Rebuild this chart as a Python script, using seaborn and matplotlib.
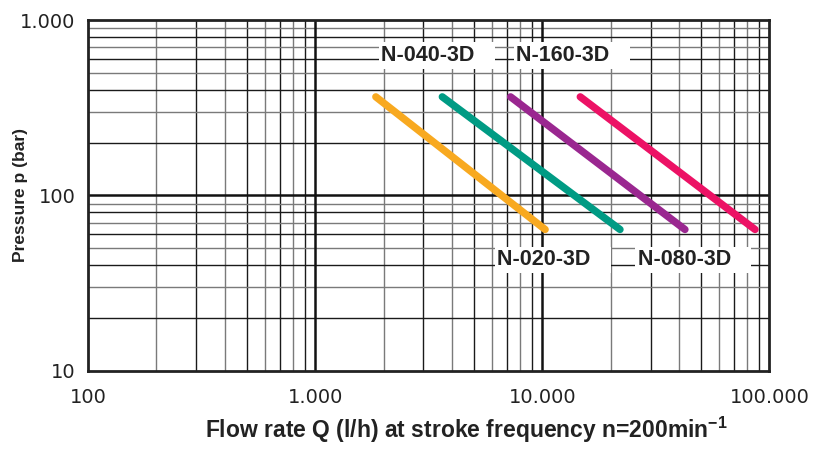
import seaborn as sns
import matplotlib.pyplot as plt
import matplotlib.ticker as mticker
import pandas as pd

# Dados
modelos = ['N-020-3D', 'N-040-3D', 'N-080-3D', 'N-160-3D']
vazao_inicio = [1850, 3630, 7250, 14700]
vazao_fim = [10300, 22000, 42500, 86500]
pressao_max = 365
pressao_min = 64
cores = ['#F8A920', '#009B84', '#9A2790', '#EC1265']

# posição dos rótulos (x, y em unidades dos dados)
rotulo_x = [6340, 1956, 26270, 7685]
rotulo_y = [43, 628, 43, 628]

x_ticks = [100, 1000, 10000, 100000]
x_labels = ['100', '1.000', '10.000', '100.000']
y_ticks = [10, 100, 1000]
y_labels = ['10', '100', '1.000']

linhas = []
for m, a, b in zip(modelos, vazao_inicio, vazao_fim):
    linhas.append({'Modelo': m, 'Q': a, 'p': pressao_max})
    linhas.append({'Modelo': m, 'Q': b, 'p': pressao_min})
df = pd.DataFrame(linhas)

sns.set_style('white')
plt.rcParams['font.family'] = ['Liberation Sans', 'DejaVu Sans']
plt.rcParams['mathtext.fontset'] = 'custom'
plt.rcParams['mathtext.bf'] = 'Liberation Sans:bold'
plt.rcParams['mathtext.rm'] = 'Liberation Sans:bold'

fig = plt.figure(figsize=(8.15, 4.66), dpi=100)
ax = fig.add_axes([0.108, 0.204, 0.836, 0.753])
ax.set_xscale('log')
ax.set_yscale('log')
ax.set_xlim(100, 100000)
ax.set_ylim(10, 1000)

# grade secundária (alternando preto/cinza)
for dec in [100, 1000, 10000]:
    for k in range(2, 10):
        c = '#7a7a7a' if k % 2 == 0 else '#1a1a1a'
        ax.axvline(k * dec, color=c, lw=1.0, zorder=1)
for dec in [10, 100]:
    for k in range(2, 10):
        c = '#7a7a7a' if k % 2 == 1 else '#1a1a1a'
        ax.axhline(k * dec, color=c, lw=1.0, zorder=1)
# grade principal
for v in x_ticks[1:-1]:
    ax.axvline(v, color='#111111', lw=1.8, zorder=1.5)
for v in y_ticks[1:-1]:
    ax.axhline(v, color='#111111', lw=1.8, zorder=1.5)

sns.lineplot(data=df, x='Q', y='p', hue='Modelo', palette=cores,
             linewidth=5.3, solid_capstyle='round', legend=False, ax=ax, zorder=3)

for m, x, y in zip(modelos, rotulo_x, rotulo_y):
    ax.text(x, y, m + '   ', fontsize=15.5, fontweight='bold', color='#222222',
            ha='left', va='center', zorder=4,
            bbox=dict(facecolor='white', edgecolor='none', boxstyle='square,pad=0.12'))

ax.set_xticks(x_ticks)
ax.set_xticklabels(x_labels)
ax.set_yticks(y_ticks)
ax.set_yticklabels(y_labels)
ax.xaxis.set_minor_locator(mticker.NullLocator())
ax.yaxis.set_minor_locator(mticker.NullLocator())
ax.tick_params(axis='both', which='major', direction='out', length=5, width=1.2,
               color='#222222', labelsize=14, labelcolor='#222222')
for t in ax.get_xticklabels() + ax.get_yticklabels():
    t.set_family('DejaVu Sans')
ax.tick_params(axis='x', pad=7)
ax.tick_params(axis='y', pad=4)

for s in ax.spines.values():
    s.set_color('#222222')
    s.set_linewidth(2)
    s.set_zorder(5)

ax.set_ylabel('Pressure p (bar)', fontsize=12.5, fontweight='bold', color='#222222')
ax.yaxis.set_label_coords(-0.088, 0.5)
ax.set_xlabel(r'Flow rate Q (l/h) at stroke frequency n=200min$^{\mathbf{-1}}$',
              fontsize=16.5, fontweight='bold', color='#222222')
ax.xaxis.set_label_coords(0.556, -0.125)

plt.savefig('out.png', dpi=100)
